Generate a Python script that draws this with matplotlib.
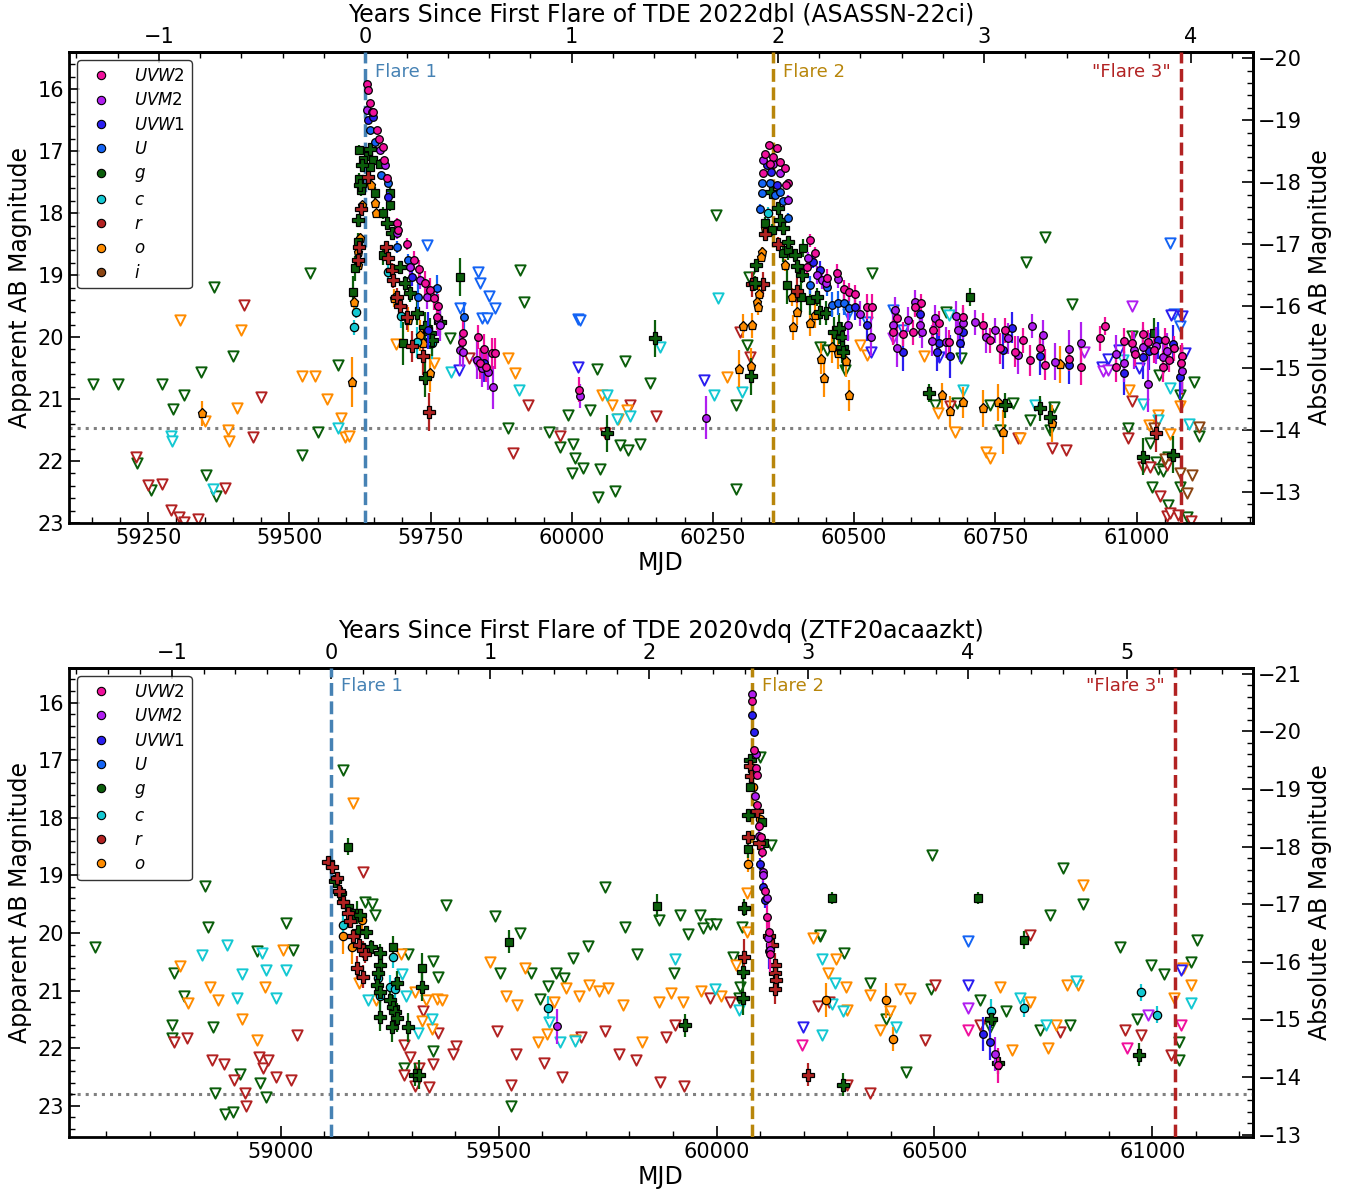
import numpy as np
import matplotlib
matplotlib.use("Agg")
import matplotlib.pyplot as plt
from matplotlib.lines import Line2D
from matplotlib.ticker import MultipleLocator

# ---------------- colours per band ----------------
band_colors = {'UVW2': '#f0109c', 'UVM2': '#b01ef0', 'UVW1': '#2a1ef0', 'U': '#1464f4',
               'g': '#0b5e0b', 'c': '#14c8d2', 'r': '#b22222', 'o': '#ff8c00', 'i': '#8b4513'}

# ================= TDE 2022dbl (top) =================
# detections: (MJD, mag, err)
A_UVW2 = [(59637,15.91,.05),(59640,16.02,.05),(59642,16.23,.05),(59649,16.37,.05),(59655,16.66,.05),(59658,16.80,.05),
          (59665,16.94,.05),(59668,17.15,.06),(59673,17.43,.06),(59690,18.16,.08),(59692,18.27,.08),(59708,18.50,.1),
          (59720,18.76,.15),(59730,18.90,.15),(59740,19.13,.2),(59749,19.24,.2),(59756,19.37,.2),(59763,19.50,.2),
          (59761,19.68,.2),(59808,19.94,.2),(59805,20.08,.2),(59834,20.00,.2),(59844,20.20,.25),(59837,20.42,.25),
          (59849,20.48,.25),(59858,20.26,.25),(59864,20.26,.25),(60012,20.85,.2),
          (60349,16.90,.05),(60363,16.95,.05),(60342,17.04,.05),(60356,17.10,.05),(60369,17.18,.05),(60378,17.27,.05),
          (60351,17.20,.05),(60339,17.36,.05),(60383,17.52,.06),(60380,17.55,.06),(60422,18.44,.1),(60431,18.64,.1),
          (60417,18.87,.1),(60452,19.05,.15),(60470,18.97,.15),(60482,19.23,.15),(60491,19.27,.15),(60501,19.31,.15),
          (60522,19.51,.2),(60531,19.51,.2),(60575,19.70,.2),(60586,19.95,.2),(60604,19.92,.2),(60618,19.45,.15),
          (60608,19.52,.15),(60640,19.89,.2),(60651,19.78,.2),(60667,20.08,.2),(60693,19.68,.2),(60568,19.92,.2),
          (60728,19.81,.2),(60740,20.05,.2),(60758,20.18,.25),(60767,19.89,.2),(60785,20.24,.25),(60799,20.05,.2),
          (60811,20.37,.25),(60829,20.18,.2),(60838,20.45,.25),(60881,20.35,.2),(60902,20.48,.3),(60935,20.02,.2),
          (60944,19.82,.15),(60963,20.48,.25),(60977,20.06,.2),(60991,20.10,.2),(60997,20.27,.2),(61011,19.95,.2),
          (61020,20.08,.2),(61030,20.21,.2),(61051,20.05,.2),(61046,20.48,.25),(61057,20.37,.2),(61067,20.18,.2),
          (61081,20.30,.2),(61079,20.41,.2)]
A_UVM2 = [(59638,16.33,.05),(59647,16.37,.05),(59661,16.98,.06),(59670,17.23,.06),(59691,18.32,.1),(59714,18.87,.15),
          (59732,19.08,.15),(59744,19.35,.2),(59763,19.73,.25),(59767,19.81,.25),(59802,20.21,.25),(59807,20.24,.25),
          (59832,20.37,.3),(59841,20.50,.3),(59851,20.56,.3),(59860,20.81,.35),(60015,20.95,.2),(60237,21.30,.35),
          (60339,17.15,.05),(60356,17.20,.05),(60369,17.36,.05),(60383,17.79,.08),(60419,18.72,.1),(60434,19.00,.15),
          (60443,19.08,.15),(60450,19.13,.15),(60471,19.06,.15),(60489,19.81,.25),(60510,19.62,.2),(60530,20.00,.3),
          (60568,19.81,.25),(60575,20.18,.3),(60596,19.72,.2),(60607,19.44,.2),(60637,20.06,.25),(60620,19.92,.25),
          (60680,19.66,.25),(60692,19.78,.25),(60572,19.56,.2),(60616,19.81,.2),(60643,19.69,.2),(60662,20.08,.25),
          (60683,19.89,.2),(60714,19.76,.2),(60734,20.00,.25),(60749,19.89,.2),(60772,20.02,.25),(60790,20.29,.3),
          (60815,19.82,.2),(60834,19.97,.25),(60855,20.40,.3),(60881,20.19,.3),(60902,20.10,.35),(60963,20.27,.3),
          (60977,20.42,.3),(60995,20.21,.3),(61011,20.16,.3),(61020,20.76,.45),(61034,20.14,.3),(61046,20.32,.3),
          (61053,20.23,.3),(61081,20.55,.35)]
A_UVW1 = [(59640,16.50,.05),(59649,16.45,.05),(59675,17.74,.08),(59717,19.03,.15),(59745,19.89,.3),(59844,20.42,.3),
          (60352,17.34,.05),(60363,17.55,.06),(60345,17.23,.05),(60427,18.79,.1),(60439,18.92,.15),(60501,19.52,.2),
          (60522,19.81,.25),(60586,20.24,.3),(60616,19.62,.2),(60650,20.10,.3),(60669,20.31,.35),(60693,19.92,.25),
          (60647,20.24,.3),(60687,20.10,.3),(60763,20.21,.3),(60779,19.85,.25),(60829,20.31,.3),(60881,20.45,.3),
          (60977,20.58,.35),(61011,20.32,.35),(61022,20.23,.3),(61037,20.05,.3),(61065,20.11,.3),(61077,20.65,.35)]
A_U = [(59642,16.66,.04),(59651,16.85,.04),(59663,17.39,.05),(59675,17.52,.05),(59691,18.55,.1),(59711,18.76,.1),
       (59727,19.35,.2),(59761,19.20,.2),(59810,19.68,.25),(60337,17.52,.05),(60337,17.68,.05),(60351,17.52,.05),
       (60360,17.71,.05),(60369,17.66,.05),(60374,17.81,.05),(60383,18.08,.08),(60333,17.94,.08),(60421,19.16,.15),
       (60452,19.19,.15),(60461,19.48,.2),(60472,19.45,.2),(60482,19.45,.2),(60491,19.53,.2)]
A_g_sq = [(59624,16.98,.08),(59639,17.08,.08),(59630,17.15,.08),(59649,17.15,.08),(59642,17.26,.08),(59661,17.20,.08),
          (59624,17.45,.1),(59627,17.63,.1),(59678,17.68,.1),(59651,17.68,.1),(59679,17.87,.1),(59665,18.00,.1),
          (59621,18.47,.15),(59616,18.89,.2),(59613,19.27,.25),(59666,18.68,.15),(59701,20.10,.35),(59802,19.03,.3),
          (60343,18.16,.1),(60354,18.27,.1),(60374,18.64,.15),(60383,18.60,.15),(60409,18.56,.15),(60381,19.16,.3),
          (60421,19.40,.25),(60405,19.35,.25),(60705,19.35,.15),(61030,19.94,.25)]
A_g_pl = [(59628,17.23,.05),(59642,16.97,.05),(59626,17.55,.05),(59673,18.16,.08),(59682,18.32,.08),(59696,18.87,.1),
          (59704,19.13,.12),(59714,19.29,.15),(59726,19.61,.2),(59740,19.84,.25),(59749,19.94,.25),(59740,20.66,.3),
          (59767,19.76,.2),(59752,20.05,.25),(59622,18.11,.08),(60148,20.02,.3),(60063,21.55,.3),
          (60352,17.66,.05),(60366,17.92,.05),(60369,18.11,.06),(60374,18.24,.06),(60383,18.47,.08),(60395,18.68,.1),
          (60399,18.86,.1),(60407,19.00,.12),(60327,18.84,.1),(60325,19.13,.12),(60434,19.35,.15),(60439,19.60,.2),
          (60450,19.61,.2),(60465,19.92,.25),(60473,19.86,.25),(60479,20.00,.25),(60479,20.16,.25),(60480,20.24,.3),
          (60318,20.63,.3),(60633,20.90,.15),(60767,21.10,.2),(60829,21.15,.2),(60846,21.29,.25),(61012,21.93,.3),
          (61065,21.90,.3)]
A_r_pl = [(59639,17.42,.05),(59627,17.94,.06),(59624,18.55,.1),(59622,18.76,.1),(59672,18.55,.1),(59675,18.73,.1),
          (59682,18.92,.12),(59684,19.08,.12),(59690,19.35,.15),(59696,19.50,.15),(59708,19.68,.2),(59717,20.15,.25),
          (59737,20.31,.3),(59748,21.21,.3),(60342,18.33,.08),(60366,18.49,.1),(60339,19.15,.2),(60398,19.25,.2),
          (60319,19.15,.2),(61035,21.55,.3)]
A_o_pe = [(59628,17.87,.05),(59626,18.40,.08),(59621,18.63,.08),(59622,18.84,.1),(59615,19.44,.15),(59645,17.55,.05),
          (59651,17.84,.06),(59654,18.00,.06),(59686,19.37,.15),(59710,19.72,.2),(59732,19.97,.25),(59736,20.10,.25),
          (59749,20.58,.3),(59611,20.72,.4),(59346,21.23,.2),(60342,18.24,.05),(60337,18.63,.08),(60335,18.71,.08),
          (60331,19.31,.12),(60328,19.43,.12),(60329,19.52,.12),(60378,18.84,.1),(60390,19.35,.15),(60399,19.60,.2),
          (60422,19.78,.2),(60430,19.65,.2),(60392,19.84,.2),(60319,19.81,.2),(60296,20.51,.3),(60317,20.47,.3),
          (60441,20.35,.25),(60447,20.66,.3),(60460,20.16,.25),(60472,20.26,.25),(60486,20.39,.25),(60304,19.82,.2),
          (60491,20.94,.25),(60656,20.94,.2),(60670,21.20,.25),(60693,21.05,.25),(60728,21.15,.3),(60763,21.53,.35),
          (60755,21.05,.3),(60865,20.44,.3),(60851,21.39,.3)]
A_c = [(59618,19.60,.1),(59614,19.84,.12),(59675,18.95,.15),(59698,19.66,.2),(59726,20.08,.25),(59753,20.10,.25),
       (60348,18.00,.1)]
# upper limits: (MJD, mag)
A_g_lim = [(59153,20.76),(59196,20.76),(59230,22.03),(59255,22.47),(59274,20.76),(59294,21.16),(59313,20.94),
           (59343,20.56),(59366,19.19),(59371,22.56),(59401,20.31),(59353,22.23),(59523,21.90),(59537,18.97),
           (59551,21.53),(59587,20.45),(59784,20.02),(59909,18.92),(59916,19.44),(59888,21.47),(59994,21.26),
           (60003,21.73),(60000,22.20),(60045,20.52),(60047,22.58),(60050,22.13),(60077,22.48),(60095,20.39),
           (60100,21.82),(60121,21.73),(60139,20.74),(60256,18.03),(60290,22.45),(60291,21.10),(59960,21.53),
           (59979,21.77),(60006,21.95),(60020,22.11),(60086,21.74),(60033,21.18),(60313,19.03),(60310,20.13),
           (60531,18.97),(60440,20.16),(60452,20.21),(60483,20.53),(60690,20.34),(60663,19.60),(60643,21.10),
           (60682,21.06),(60740,21.10),(60758,21.50),(60781,21.06),(60811,21.34),(60846,21.50),(60838,18.39),
           (60805,18.79),(60886,19.47),(60992,19.98),(61040,20.61),(61102,20.73),(61077,20.94),(60985,21.47),
           (61110,21.60),(61024,21.71),(61034,22.01),(61037,22.13),(61047,22.16),(61056,21.93),(61027,22.42),
           (61076,22.42),(61056,22.71),(61089,22.90),(60853,21.13)]
A_r_lim = [(59228,21.94),(59250,22.39),(59274,22.37),(59290,22.79),(59304,22.90),(59313,22.98),(59339,22.94),
           (59387,22.44),(59419,19.48),(59436,21.61),(59449,20.97),(59896,21.87),(59979,21.60),(60103,21.10),
           (60149,21.27),(60059,21.55),(59923,21.10),(59818,20.34),(60297,19.92),(60316,20.32),(60670,21.11),
           (60790,21.63),(60875,21.82),(60992,21.03),(60985,21.63),(61012,22.10),(61024,22.10),(61053,22.07),
           (61042,22.57),(61053,22.89),(61060,22.84),(61074,22.87),(61097,22.97),(60851,21.79)]
A_o_lim = [(59306,19.73),(59351,21.35),(59392,21.50),(59394,21.68),(59408,21.15),(59415,19.89),(59523,20.63),
           (59546,20.63),(59599,21.61),(59567,21.00),(59592,21.31),(59606,21.60),(59689,20.11),(59757,20.42),
           (59888,20.34),(59900,20.58),(60054,20.94),(60072,21.10),(60082,21.32),(60098,21.18),(60275,20.65),
           (60510,20.13),(60522,20.29),(60623,20.31),(60649,21.23),(60679,21.53),(60734,21.85),(60740,21.95),
           (60793,21.63),(60986,20.86),(61077,21.11),(61038,21.26),(61022,21.42),(61060,21.56)]
A_c_lim = [(59290,21.60),(59293,21.68),(59587,21.47),(59365,22.45),(59787,20.56),(59907,20.86),(60063,20.94),
           (60081,21.32),(60103,21.27),(60157,20.16),(60259,19.37),(60252,20.94),(60301,20.89),(60668,19.65),
           (60820,21.10),(60693,20.86),(60976,20.37),(61011,21.08),(61060,20.82),(61038,21.34),(61092,21.40)]
A_i_lim = [(61030,21.47),(61051,21.96),(61077,22.19),(61098,22.23),(61089,22.52),(61110,21.45)]
A_U_lim = [(59743,18.52),(59834,18.95),(59837,19.13),(59853,19.34),(59864,19.53),(59842,19.69),(59850,19.69),
           (59802,19.53),(60011,19.71),(60015,19.73),(60489,19.62),(60522,19.76),(60569,19.56),(60586,19.89),
           (61059,18.48),(61066,19.62),(61076,19.82)]
A_UVW1_lim = [(59800,20.53),(60011,20.48),(60234,20.69),(60530,20.24),(60650,20.32),(61061,19.65),(61081,19.66),
              (60950,20.36),(60939,20.48),(61004,20.50),(61086,20.25),(60969,20.21)]
A_UVM2_lim = [(59832,20.42),(60569,20.02),(60992,19.50),(60907,20.24),(60940,20.55),(60949,20.53)]

# ================= TDE 2020vdq (bottom) =================
B_UVW2 = [(60082,15.98,.05),(60086,16.82,.05),(60091,17.13,.05),(60093,17.25,.05),(60093,17.77,.06),(60098,18.15,.08),
          (60102,18.34,.08),(60105,18.59,.1),(60112,19.28,.15),(60116,19.73,.2),(60121,19.99,.25),(60123,20.37,.3),
          (60645,22.30,.3)]
B_UVM2 = [(60082,15.86,.05),(60091,16.89,.05),(60089,17.63,.06),(60098,18.31,.08),(60107,18.95,.12),(60107,19.00,.12),
          (60116,19.39,.15),(60119,20.08,.25),(60123,20.29,.3),(59635,21.62,.3),(60640,22.10,.3)]
B_UVW1 = [(60081,16.21,.05),(60086,16.52,.05),(60100,18.80,.1),(60107,19.21,.12),(60112,19.42,.15),(60121,20.32,.3),
          (60628,21.90,.3),(60612,21.75,.3)]
B_g_sq = [(59155,18.50,.15),(59176,19.65,.2),(59258,20.25,.2),(59325,20.60,.25),(59523,20.15,.2),(59864,19.53,.2),
          (60077,17.46,.1),(60104,18.08,.1),(60110,18.43,.15),(60073,18.55,.15),(60266,19.39,.1),(60601,19.39,.1),
          (60706,20.12,.15)]
B_g_pl = [(59124,19.10,.05),(59136,19.30,.05),(59151,19.54,.08),(59166,19.68,.1),(59181,19.68,.1),(59177,19.97,.1),
          (59196,19.99,.1),(59206,20.25,.12),(59228,20.34,.15),(59228,20.55,.15),(59224,20.69,.15),(59221,20.90,.2),
          (59228,21.02,.2),(59228,21.45,.25),(59251,21.16,.2),(59258,21.28,.2),(59263,21.38,.2),(59255,21.64,.25),
          (59267,21.47,.25),(59291,21.64,.25),(59266,20.86,.2),(59325,20.93,.25),(59307,22.46,.2),(59318,22.46,.25),
          (59928,21.60,.2),(60073,17.96,.08),(60063,19.56,.15),(60061,20.67,.25),(60061,21.12,.3),(60077,16.99,.06),
          (60291,22.63,.2),(60645,22.25,.2),(60630,21.50,.15),(60969,22.11,.2)]
B_r_pl = [(59108,18.76,.05),(59117,18.85,.05),(59129,19.04,.05),(59134,19.28,.08),(59143,19.47,.08),(59155,19.65,.1),
          (59159,19.80,.1),(59166,20.06,.12),(59180,20.20,.15),(59188,20.29,.15),(59194,20.37,.15),(59176,20.60,.2),
          (59189,20.76,.2),(60077,17.11,.05),(60080,17.28,.05),(60093,17.89,.08),(60098,18.43,.1),(60073,18.34,.1),
          (60121,20.06,.15),(60128,20.20,.15),(60135,20.55,.2),(60133,20.69,.2),(60137,20.81,.2),(60135,20.98,.25),
          (60063,20.41,.3),(60210,22.46,.2)]
B_o = [(59143,20.06,.3),(59186,19.78,.2),(59164,20.24,.3),(60073,18.80,.15),(60084,17.46,.1),(60100,18.03,.1),
       (60252,21.16,.3),(60390,21.17,.3),(60406,21.84,.2)]
B_c = [(59143,19.87,.2),(59258,20.41,.2),(59251,20.93,.2),(59263,20.98,.2),(59224,20.79,.25),(59228,21.09,.25),
       (59614,21.30,.2),(60630,21.35,.2),(60706,21.30,.15),(60973,21.03,.15),(61010,21.42,.15)]
B_g_lim = [(58574,20.25),(58826,19.19),(58833,19.90),(58754,20.69),(58777,21.10),(58751,21.59),(58751,21.82),
           (58844,21.64),(58849,22.77),(58872,23.15),(58890,23.10),(58906,22.44),(58952,22.60),(59013,19.82),
           (59028,20.30),(58945,20.32),(58965,22.85),(59143,17.17),(59193,19.47),(59209,19.49),(59216,19.68),
           (59380,19.52),(59293,20.36),(59350,20.48),(59361,20.77),(59350,22.04),(59283,22.34),(59492,19.70),
           (59549,20.00),(59503,20.70),(59575,20.70),(59595,21.15),(59614,20.92),(59632,20.70),(59650,20.79),
           (59671,20.44),(59705,20.23),(59744,19.20),(59790,19.90),(59817,20.37),(59867,19.77),(59902,20.70),
           (59917,19.68),(59935,20.02),(59963,19.68),(59986,19.85),(59999,19.85),(59970,19.92),(60037,20.41),
           (60054,20.93),(60052,21.12),(60058,19.89),(60100,16.95),(60124,18.47),(60237,20.06),(60293,20.34),
           (59528,23.01),(60238,20.03),(60353,20.86),(60389,21.50),(60434,22.42),(60491,20.98),(60494,18.64),
           (60605,21.16),(60628,21.64),(60665,21.36),(60743,21.68),(60766,19.68),(60796,18.87),(60812,21.59),
           (60840,19.50),(60927,20.24),(60996,20.55),(61026,20.72),(61088,20.50),(61102,20.12),(61062,21.90),
           (61062,22.20),(60964,21.50)]
B_o_lim = [(58768,20.58),(58786,21.21),(58838,20.93),(58856,21.16),(58911,21.50),(58945,21.85),(58963,20.93),
           (59006,20.29),(59166,17.74),(59277,20.36),(59180,20.86),(59219,21.16),(59307,21.02),(59334,21.17),
           (59359,21.14),(59371,21.17),(59325,21.52),(59348,21.66),(59480,20.50),(59517,21.10),(59542,21.25),
           (59560,20.60),(59590,21.90),(59610,21.75),(59627,21.20),(59655,20.95),(59675,21.85),(59685,21.10),
           (59708,20.90),(59730,21.00),(59752,20.95),(59785,21.25),(59830,21.90),(59867,21.20),(59895,21.05),
           (59922,21.20),(59965,21.00),(60010,21.10),(60070,19.30),(60070,19.99),(60222,20.08),(60044,20.55),
           (60273,20.46),(60255,20.70),(60296,20.93),(60300,21.33),(60353,21.07),(60376,21.68),(60399,21.36),
           (60422,20.98),(60445,21.12),(60651,20.93),(60679,22.03),(60720,21.19),(60760,21.99),(60779,21.59),
           (60804,20.90),(60829,20.90),(60840,19.16),(61049,21.12),(61070,20.60),(61088,20.90)]
B_r_lim = [(58756,21.90),(58784,21.82),(58842,22.20),(58869,22.28),(58892,22.55),(58917,22.77),(58921,23.01),
           (58949,22.16),(58960,22.34),(58971,22.20),(58988,22.50),(59024,22.55),(59038,21.77),(59189,18.94),
           (59327,21.35),(59361,21.73),(59283,21.95),(59297,22.16),(59350,22.27),(59283,22.46),(59318,22.34),
           (59307,22.66),(59340,22.68),(59403,21.97),(59396,22.10),(59497,21.70),(59528,22.64),(59540,22.10),
           (59605,22.25),(59646,22.50),(59690,21.80),(59745,21.70),(59775,22.10),(59815,22.20),(59871,22.58),
           (59885,21.80),(59905,21.60),(59926,22.66),(59986,21.12),(60031,21.19),(60232,21.26),(60258,21.19),
           (60300,22.64),(60353,22.77),(60479,21.85),(60502,20.90),(60605,21.59),(60720,20.03),(60789,21.72),
           (60938,21.68),(60973,21.77),(61042,22.11)]
B_c_lim = [(58819,20.38),(58876,20.20),(58899,21.12),(58911,20.72),(58958,20.34),(58965,20.64),(59013,20.64),
           (58990,21.12),(59279,20.72),(59201,21.17),(59288,21.10),(59348,21.49),(59314,21.73),(59616,21.55),
           (59640,21.90),(59676,21.87),(59905,20.45),(59997,20.98),(60052,21.33),(60241,20.46),(60271,20.86),
           (60265,21.24),(60291,21.35),(60243,21.77),(60411,21.64),(60697,21.12),(60756,21.59),(60825,20.84),
           (61088,21.21)]
B_UVW2_lim = [(60197,21.94),(60578,21.68),(60943,21.99),(61065,21.59)]
B_UVM2_lim = [(60991,21.42),(60578,21.30)]
B_UVW1_lim = [(60199,21.64),(60578,20.91),(61065,20.64)]
B_U_lim = [(60578,20.14)]

A_flares = [59634.5, 60356, 61078]
B_flares = [59115, 60082, 61052]
A_years = [-1, 0, 1, 2, 3, 4]
B_years = [-1, 0, 1, 2, 3, 4, 5]
A_abs = [-20, -19, -18, -17, -16, -15, -14, -13]
B_abs = [-21, -20, -19, -18, -17, -16, -15, -14, -13]


def draw_det(ax, pts, band, marker, ms, z=4):
    t, m, e = zip(*pts)
    c = band_colors[band]
    ax.errorbar(t, m, yerr=e, fmt=marker, color=c, mfc=c, mec='k', mew=0.9, ms=ms,
                elinewidth=1.6, capsize=0, zorder=z)


def draw_lim(ax, pts, band):
    t, m = zip(*pts)
    ax.scatter(t, m, marker='v', s=55, facecolors='white', edgecolors=band_colors[band],
               linewidths=1.4, zorder=2)


def style_panel(ax, flares, dm, xlim, ylim, title, bands, hline, xmaj, xmin, years, absmag):
    ax.set_xlim(*xlim)
    ax.set_ylim(*ylim)
    ax.axhline(hline, color='grey', ls=':', lw=2.2, zorder=1)
    fcol = ['#4682b4', '#b8860b', '#b22222']
    names = ['Flare 1', 'Flare 2', '"Flare 3"']
    for k, (f, c, n) in enumerate(zip(flares, fcol, names)):
        ax.axvline(f, color=c, ls='--', lw=2.5, zorder=3)
        if k < 2:
            ax.annotate(n, (f, 15.72), xytext=(7, 0), textcoords='offset points', color=c,
                        fontsize=13, va='center', ha='left')
        else:
            ax.annotate(n, (f, 15.72), xytext=(-7, 0), textcoords='offset points', color=c,
                        fontsize=13, va='center', ha='right')
    t0 = flares[0]
    top = ax.secondary_xaxis('top', functions=(lambda x: (x - t0) / 365.25, lambda y: y * 365.25 + t0))
    top.set_xticks(years)
    top.xaxis.set_minor_locator(MultipleLocator(0.2))
    top.set_xlabel(title, fontsize=17)
    right = ax.secondary_yaxis('right', functions=(lambda m: m - dm, lambda M: M + dm))
    right.set_yticks(absmag)
    right.yaxis.set_minor_locator(MultipleLocator(0.2))
    right.set_ylabel('Absolute AB Magnitude', fontsize=17)
    ax.xaxis.set_major_locator(MultipleLocator(xmaj))
    ax.xaxis.set_minor_locator(MultipleLocator(xmin))
    ax.yaxis.set_major_locator(MultipleLocator(1))
    ax.yaxis.set_minor_locator(MultipleLocator(0.2))
    ax.set_xlabel('MJD', fontsize=17, labelpad=2)
    ax.set_ylabel('Apparent AB Magnitude', fontsize=17)
    for a in (ax, top, right):
        a.tick_params(which='major', direction='in', length=8, width=1.2, labelsize=15)
        a.tick_params(which='minor', direction='in', length=4, width=1)
    for sp in ax.spines.values():
        sp.set_linewidth(2)
    top.spines['top'].set_linewidth(2)
    right.spines['right'].set_linewidth(2)
    handles = [Line2D([], [], ls='none', marker='o', ms=6, mfc=band_colors[b], mec='k', mew=0.8,
                      label='$' + b + '$') for b in bands]
    leg = ax.legend(handles=handles, loc='upper left', fontsize=12, frameon=True, edgecolor='k',
                    fancybox=True, labelspacing=0.38, handletextpad=1.0, borderaxespad=0.5)
    leg.get_frame().set_linewidth(1)


fig = plt.figure(figsize=(13.48, 11.93), dpi=100)
ax1 = fig.add_axes([0.0512, 0.5616, 0.8783, 0.3948])
ax2 = fig.add_axes([0.0512, 0.0470, 0.8783, 0.3931])

# ---- top panel ----
for pts, b in [(A_g_lim, 'g'), (A_r_lim, 'r'), (A_o_lim, 'o'), (A_c_lim, 'c'), (A_i_lim, 'i'),
               (A_U_lim, 'U'), (A_UVW1_lim, 'UVW1'), (A_UVM2_lim, 'UVM2')]:
    draw_lim(ax1, pts, b)
draw_det(ax1, A_o_pe, 'o', 'p', 6.5)
draw_det(ax1, A_c, 'c', 'o', 6)
draw_det(ax1, A_g_sq, 'g', 's', 5.5)
draw_det(ax1, A_r_pl, 'r', 'P', 8)
draw_det(ax1, A_g_pl, 'g', 'P', 8)
draw_det(ax1, A_U, 'U', 'o', 5.5, 5)
draw_det(ax1, A_UVW1, 'UVW1', 'o', 5.5, 5)
draw_det(ax1, A_UVM2, 'UVM2', 'o', 5.5, 5)
draw_det(ax1, A_UVW2, 'UVW2', 'o', 5.5, 5)
style_panel(ax1, A_flares, 35.5, (59110, 61206), (23.0, 15.4),
            'Years Since First Flare of TDE 2022dbl (ASASSN-22ci)',
            ['UVW2', 'UVM2', 'UVW1', 'U', 'g', 'c', 'r', 'o', 'i'], 21.47, 250, 50, A_years, A_abs)

# ---- bottom panel ----
for pts, b in [(B_g_lim, 'g'), (B_r_lim, 'r'), (B_o_lim, 'o'), (B_c_lim, 'c'), (B_UVW2_lim, 'UVW2'),
               (B_UVM2_lim, 'UVM2'), (B_UVW1_lim, 'UVW1'), (B_U_lim, 'U')]:
    draw_lim(ax2, pts, b)
draw_det(ax2, B_o, 'o', 'o', 6)
draw_det(ax2, B_c, 'c', 'o', 6)
draw_det(ax2, B_g_sq, 'g', 's', 5.5)
draw_det(ax2, B_g_pl, 'g', 'P', 8)
draw_det(ax2, B_r_pl, 'r', 'P', 8)
draw_det(ax2, B_UVW1, 'UVW1', 'o', 5.5, 5)
draw_det(ax2, B_UVM2, 'UVM2', 'o', 5.5, 5)
draw_det(ax2, B_UVW2, 'UVW2', 'o', 5.5, 5)
style_panel(ax2, B_flares, 36.5, (58514, 61231), (23.54, 15.4),
            'Years Since First Flare of TDE 2020vdq (ZTF20acaazkt)',
            ['UVW2', 'UVM2', 'UVW1', 'U', 'g', 'c', 'r', 'o'], 22.79, 500, 100, B_years, B_abs)

fig.savefig('out.png', dpi=100)
